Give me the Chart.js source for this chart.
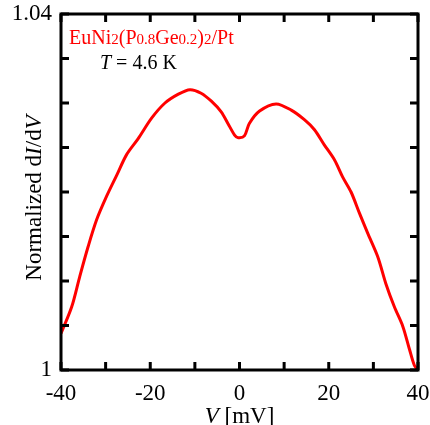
<!DOCTYPE html>
<html>
<head>
<meta charset="utf-8">
<script src="https://cdn.jsdelivr.net/npm/chart.js@4.4.1/dist/chart.umd.min.js"></script>
<style>
html,body{margin:0;padding:0;background:#fff;}
#wrap{width:430px;height:425px;position:relative;}
</style>
</head>
<body>
<div id="wrap"><canvas id="c" width="430" height="425"></canvas></div>
<script>
// Data
const voltage = [-40, -37.6, -35.8, -33.9, -32.0, -29.8, -27.5, -25.3, -22.7, -19.7, -16.7, -13.7, -11.1, -8.6, -6.3, -4.1, -2.6, -1.1, -0.3, 1.1, 2.2, 4.5, 8.2, 11.6, 14.6, 16.8, 19.0, 21.3, 23.1, 25.0, 26.9, 28.7, 31.0, 32.8, 34.7, 36.6, 38.1, 39.2, 40];
const dIdV = [1.0041, 1.0071, 1.0105, 1.0139, 1.0169, 1.0195, 1.0219, 1.0242, 1.0260, 1.0283, 1.0300, 1.0310, 1.0315, 1.0311, 1.0302, 1.0290, 1.0277, 1.0264, 1.0261, 1.0263, 1.0277, 1.0291, 1.0299, 1.0292, 1.0281, 1.0270, 1.0253, 1.0236, 1.0217, 1.0200, 1.0176, 1.0154, 1.0127, 1.0097, 1.0071, 1.0049, 1.0023, 1.0005, 1.0000];
const xTickLabels = [-40, -20, 0, 20, 40];
const yTickLabels = [1, 1.04];
const xMinorTicks = [-40, -30, -20, -10, 0, 10, 20, 30, 40];
const yMinorTicks = [1, 1.005, 1.01, 1.015, 1.02, 1.025, 1.03, 1.035, 1.04];

const SERIF = '"Liberation Serif", "Times New Roman", serif';

function drawParts(ctx, parts, x, y) {
  let cx = x;
  for (const p of parts) {
    ctx.font = p.font;
    ctx.fillStyle = p.color || '#000';
    ctx.fillText(p.t, cx, y + (p.dy || 0));
    cx += ctx.measureText(p.t).width;
  }
}
function partsWidth(ctx, parts) {
  let w = 0;
  for (const p of parts) { ctx.font = p.font; w += ctx.measureText(p.t).width; }
  return w;
}

const framePlugin = {
  id: 'frame',
  afterDraw(chart) {
    const ctx = chart.ctx;
    const a = chart.chartArea;
    const xs = chart.scales.x, ys = chart.scales.y;
    ctx.save();
    ctx.strokeStyle = '#000';
    ctx.lineWidth = 3;
    ctx.lineCap = 'butt';
    // ticks inward
    const tl = 8;
    ctx.beginPath();
    for (const v of xMinorTicks) {
      const px = xs.getPixelForValue(v);
      ctx.moveTo(px, a.bottom); ctx.lineTo(px, a.bottom - tl);
      ctx.moveTo(px, a.top); ctx.lineTo(px, a.top + tl);
    }
    for (const v of yMinorTicks) {
      const py = ys.getPixelForValue(v);
      ctx.moveTo(a.left, py); ctx.lineTo(a.left + tl, py);
      ctx.moveTo(a.right, py); ctx.lineTo(a.right - tl, py);
    }
    ctx.stroke();
    ctx.strokeRect(a.left, a.top, a.right - a.left, a.bottom - a.top);

    const fs = 23;
    // tick labels
    ctx.fillStyle = '#000';
    ctx.font = fs + 'px ' + SERIF;
    ctx.textBaseline = 'middle';
    ctx.textAlign = 'center';
    for (const v of xTickLabels) {
      ctx.fillText(String(v), xs.getPixelForValue(v), a.bottom + 24);
    }
    ctx.textAlign = 'right';
    for (const v of yTickLabels) {
      ctx.fillText(Math.abs(v - 1) < 1e-9 ? '1' : String(v), a.left - 9, ys.getPixelForValue(v));
    }

    // axis titles
    ctx.textBaseline = 'alphabetic';
    ctx.textAlign = 'left';
    const xt = [
      {t: 'V', font: 'italic ' + fs + 'px ' + SERIF},
      {t: ' [mV]', font: fs + 'px ' + SERIF}
    ];
    const xw = partsWidth(ctx, xt);
    drawParts(ctx, xt, (a.left + a.right) / 2 - xw / 2, 423);

    const yt = [
      {t: 'Normalized d', font: fs + 'px ' + SERIF},
      {t: 'I', font: 'italic ' + fs + 'px ' + SERIF},
      {t: '/d', font: fs + 'px ' + SERIF},
      {t: 'V', font: 'italic ' + fs + 'px ' + SERIF}
    ];
    const yw = partsWidth(ctx, yt);
    ctx.save();
    ctx.translate(41, 198);
    ctx.rotate(-Math.PI / 2);
    drawParts(ctx, yt, -yw / 2, 0);
    ctx.restore();

    // annotation
    const red = '#ff0000';
    const mf = '20px ' + SERIF, sf = '15px ' + SERIF;
    drawParts(ctx, [
      {t: 'EuNi', font: mf, color: red},
      {t: '2', font: sf, color: red},
      {t: '(P', font: mf, color: red},
      {t: '0.8', font: sf, color: red},
      {t: 'Ge', font: mf, color: red},
      {t: '0.2', font: sf, color: red},
      {t: ')', font: mf, color: red},
      {t: '2', font: sf, color: red},
      {t: '/Pt', font: mf, color: red}
    ], 69, 44);
    drawParts(ctx, [
      {t: 'T', font: 'italic 20px ' + SERIF},
      {t: ' = 4.6 K', font: '20px ' + SERIF}
    ], 100, 69);
    ctx.restore();
  }
};

const points = voltage.map((v, i) => ({x: v, y: dIdV[i]}));

new Chart(document.getElementById('c'), {
  type: 'scatter',
  data: {
    datasets: [{
      data: points,
      showLine: true,
      borderColor: '#ff0000',
      backgroundColor: '#ff0000',
      borderWidth: 3,
      pointRadius: 0,
      tension: 0.3,
      fill: false
    }]
  },
  options: {
    responsive: false,
    animation: false,
    devicePixelRatio: 1,
    layout: {padding: {top: 14, right: 12, left: 0, bottom: 0}},
    plugins: {legend: {display: false}, tooltip: {enabled: false}},
    scales: {
      x: {
        type: 'linear', min: -40, max: 40,
        afterFit(s) { s.height = 55; },
        grid: {display: false},
        border: {display: false},
        ticks: {display: false}
      },
      y: {
        type: 'linear', min: 1, max: 1.04,
        afterFit(s) { s.width = 61; },
        grid: {display: false},
        border: {display: false},
        ticks: {display: false}
      }
    }
  },
  plugins: [framePlugin]
});
</script>
</body>
</html>
